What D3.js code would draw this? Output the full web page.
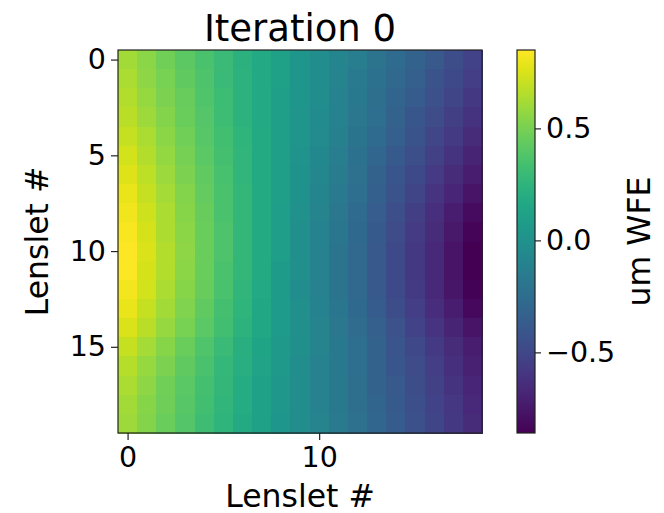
<!DOCTYPE html>
<html>
<head>
<meta charset="utf-8">
<script src="https://cdn.jsdelivr.net/npm/d3@7"></script>
<style>
  html, body { margin: 0; padding: 0; background: #ffffff; }
  svg { display: block; }
  text { font-family: "DejaVu Sans", sans-serif; fill: #000; }
</style>
</head>
<body>
<svg id="chart" width="664" height="513"></svg>
<script>
// Wavefront error per lenslet (um), 20 rows x 19 columns
const wfeRows = [
  [0.61, 0.55, 0.48, 0.42, 0.36, 0.30, 0.23, 0.17, 0.11, 0.04, -0.02, -0.08, -0.14, -0.21, -0.27, -0.33, -0.39, -0.46, -0.52],
  [0.63, 0.56, 0.50, 0.43, 0.37, 0.30, 0.24, 0.17, 0.11, 0.04, -0.03, -0.09, -0.16, -0.22, -0.29, -0.35, -0.42, -0.48, -0.55],
  [0.65, 0.58, 0.51, 0.45, 0.38, 0.31, 0.24, 0.17, 0.10, 0.04, -0.03, -0.10, -0.17, -0.24, -0.31, -0.37, -0.44, -0.51, -0.58],
  [0.67, 0.60, 0.53, 0.46, 0.39, 0.31, 0.24, 0.17, 0.10, 0.03, -0.04, -0.11, -0.18, -0.25, -0.33, -0.40, -0.47, -0.54, -0.61],
  [0.70, 0.63, 0.55, 0.48, 0.40, 0.33, 0.25, 0.18, 0.10, 0.03, -0.05, -0.12, -0.20, -0.27, -0.35, -0.42, -0.50, -0.57, -0.65],
  [0.73, 0.65, 0.57, 0.49, 0.41, 0.34, 0.26, 0.18, 0.10, 0.02, -0.06, -0.14, -0.22, -0.30, -0.38, -0.45, -0.53, -0.61, -0.69],
  [0.76, 0.68, 0.59, 0.51, 0.43, 0.35, 0.26, 0.18, 0.10, 0.01, -0.07, -0.15, -0.23, -0.32, -0.40, -0.48, -0.56, -0.65, -0.73],
  [0.79, 0.70, 0.62, 0.53, 0.44, 0.36, 0.27, 0.18, 0.10, 0.01, -0.08, -0.16, -0.25, -0.34, -0.42, -0.51, -0.60, -0.68, -0.77],
  [0.81, 0.72, 0.63, 0.54, 0.45, 0.36, 0.27, 0.18, 0.09, 0.00, -0.09, -0.18, -0.27, -0.36, -0.45, -0.54, -0.63, -0.72, -0.81],
  [0.83, 0.74, 0.64, 0.55, 0.46, 0.37, 0.27, 0.18, 0.09, -0.01, -0.10, -0.19, -0.28, -0.38, -0.47, -0.56, -0.65, -0.75, -0.84],
  [0.85, 0.75, 0.65, 0.56, 0.46, 0.37, 0.27, 0.18, 0.09, -0.01, -0.10, -0.20, -0.29, -0.39, -0.48, -0.58, -0.67, -0.77, -0.86],
  [0.84, 0.74, 0.65, 0.55, 0.46, 0.36, 0.27, 0.18, 0.08, -0.01, -0.11, -0.20, -0.29, -0.39, -0.48, -0.58, -0.67, -0.77, -0.86],
  [0.82, 0.73, 0.63, 0.54, 0.45, 0.36, 0.26, 0.17, 0.08, -0.02, -0.11, -0.20, -0.29, -0.39, -0.48, -0.57, -0.66, -0.76, -0.85],
  [0.79, 0.70, 0.61, 0.52, 0.43, 0.34, 0.25, 0.16, 0.07, -0.01, -0.10, -0.19, -0.28, -0.37, -0.46, -0.55, -0.64, -0.73, -0.82],
  [0.75, 0.67, 0.58, 0.50, 0.41, 0.33, 0.24, 0.16, 0.07, -0.01, -0.09, -0.18, -0.26, -0.35, -0.43, -0.52, -0.60, -0.69, -0.77],
  [0.70, 0.62, 0.54, 0.46, 0.38, 0.30, 0.22, 0.14, 0.06, -0.01, -0.09, -0.17, -0.25, -0.33, -0.41, -0.49, -0.57, -0.65, -0.73],
  [0.66, 0.58, 0.51, 0.43, 0.36, 0.28, 0.21, 0.13, 0.06, -0.02, -0.10, -0.17, -0.25, -0.32, -0.40, -0.47, -0.55, -0.62, -0.70],
  [0.63, 0.56, 0.48, 0.41, 0.34, 0.27, 0.19, 0.12, 0.05, -0.03, -0.10, -0.17, -0.24, -0.32, -0.39, -0.46, -0.53, -0.61, -0.68],
  [0.61, 0.54, 0.47, 0.40, 0.33, 0.26, 0.19, 0.12, 0.05, -0.03, -0.10, -0.17, -0.24, -0.31, -0.38, -0.45, -0.52, -0.59, -0.66],
  [0.60, 0.53, 0.46, 0.39, 0.32, 0.25, 0.18, 0.11, 0.04, -0.03, -0.09, -0.16, -0.23, -0.30, -0.37, -0.44, -0.51, -0.58, -0.65]
];

const xTicks = [0, 10];
const yTicks = [0, 5, 10, 15];
const colorbarTicks = [-0.5, 0.0, 0.5];
const titleText = "Iteration 0";
const xLabel = "Lenslet #";
const yLabel = "Lenslet #";
const colorbarLabel = "um WFE";

const nRows = wfeRows.length;
const nCols = wfeRows[0].length;

const svg = d3.select("#chart");

// Layout
const plot = { left: 118, right: 482, top: 50, bottom: 433 };
const cbar = { left: 517, right: 535 };

const x = d3.scaleLinear().domain([-0.5, nCols - 0.5]).range([plot.left, plot.right]);
const y = d3.scaleLinear().domain([-0.5, nRows - 0.5]).range([plot.top, plot.bottom]);

const cells = [];
wfeRows.forEach((row, r) => row.forEach((v, c) => cells.push({ r, c, v })));

const extent = d3.extent(cells, d => d.v);
const color = d3.scaleSequential(d3.interpolateViridis).domain(extent);

// Heatmap cells
svg.append("g")
  .selectAll("rect")
  .data(cells)
  .join("rect")
  .attr("x", d => x(d.c - 0.5))
  .attr("y", d => y(d.r - 0.5))
  .attr("width", d => x(d.c + 0.5) - x(d.c - 0.5) + 0.5)
  .attr("height", d => y(d.r + 0.5) - y(d.r - 0.5) + 0.5)
  .attr("fill", d => color(d.v))
  .attr("shape-rendering", "crispEdges");

// Frame
svg.append("rect")
  .attr("x", plot.left).attr("y", plot.top)
  .attr("width", plot.right - plot.left).attr("height", plot.bottom - plot.top)
  .attr("fill", "none").attr("stroke", "#222").attr("stroke-width", 1.2);

const fontTick = 28.5;
const fontLabel = 31.5;

// X axis
const xAxis = d3.axisBottom(x).tickValues(xTicks).tickFormat(d3.format("d"))
  .tickSizeInner(7).tickSizeOuter(0).tickPadding(7);
const gx = svg.append("g").attr("transform", `translate(0,${plot.bottom})`).call(xAxis);
gx.select(".domain").remove();
gx.selectAll("text").style("font-size", fontTick + "px").style("font-family", "DejaVu Sans");
gx.selectAll("line").attr("stroke", "#222").attr("stroke-width", 1.2);

// Y axis
const yAxis = d3.axisLeft(y).tickValues(yTicks).tickFormat(d3.format("d"))
  .tickSizeInner(7).tickSizeOuter(0).tickPadding(5);
const gy = svg.append("g").attr("transform", `translate(${plot.left},0)`).call(yAxis);
gy.select(".domain").remove();
gy.selectAll("text").style("font-size", fontTick + "px").style("font-family", "DejaVu Sans");
gy.selectAll("line").attr("stroke", "#222").attr("stroke-width", 1.2);

// Axis labels and title
svg.append("text")
  .attr("x", (plot.left + plot.right) / 2).attr("y", 507)
  .attr("text-anchor", "middle").style("font-size", fontLabel + "px")
  .text(xLabel);

svg.append("text")
  .attr("transform", `translate(48,${(plot.top + plot.bottom) / 2}) rotate(-90)`)
  .attr("text-anchor", "middle").style("font-size", fontLabel + "px")
  .text(yLabel);

svg.append("text")
  .attr("x", (plot.left + plot.right) / 2).attr("y", 41)
  .attr("text-anchor", "middle").style("font-size", "37px")
  .text(titleText);

// Colorbar
const cb = d3.scaleLinear().domain(extent).range([plot.bottom, plot.top]);
const defs = svg.append("defs");
const grad = defs.append("linearGradient")
  .attr("id", "cbgrad").attr("x1", 0).attr("y1", 1).attr("x2", 0).attr("y2", 0);
d3.range(0, 1.0001, 0.05).forEach(t => {
  grad.append("stop").attr("offset", t).attr("stop-color", d3.interpolateViridis(t));
});
svg.append("rect")
  .attr("x", cbar.left).attr("y", plot.top)
  .attr("width", cbar.right - cbar.left).attr("height", plot.bottom - plot.top)
  .attr("fill", "url(#cbgrad)").attr("stroke", "#222").attr("stroke-width", 1.2);

const cAxis = d3.axisRight(cb).tickValues(colorbarTicks)
  .tickFormat(d => d3.format(".1f")(d).replace("-", "\u2212"))
  .tickSizeInner(6).tickSizeOuter(0).tickPadding(5);
const gc = svg.append("g").attr("transform", `translate(${cbar.right},0)`).call(cAxis);
gc.select(".domain").remove();
gc.selectAll("text").style("font-size", fontTick + "px").style("font-family", "DejaVu Sans");
gc.selectAll("line").attr("stroke", "#222").attr("stroke-width", 1.2);

svg.append("text")
  .attr("transform", `translate(650,${(plot.top + plot.bottom) / 2}) rotate(-90)`)
  .attr("text-anchor", "middle").style("font-size", fontLabel + "px")
  .text(colorbarLabel);
</script>
</body>
</html>
